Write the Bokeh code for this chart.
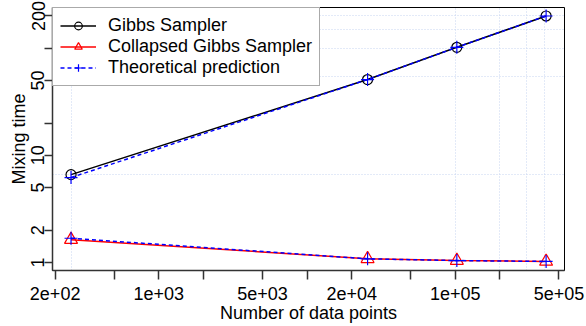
from bokeh.plotting import figure
from bokeh.models import FixedTicker, Legend, LegendItem, Range1d
from bokeh.embed import file_html
from bokeh.resources import INLINE

# ---- data ----
n_points = [256, 25600, 102400, 409600]
gibbs = [6.6, 51, 102, 200]
collapsed = [1.63, 1.08, 1.04, 1.02]
theory_gibbs = [6.2, 51, 102, 200]
theory_collapsed = [1.68, 1.08, 1.04, 1.02]

x_ticks = [200, 500, 1000, 2000, 5000, 10000, 20000, 50000, 100000, 200000, 500000]
x_tick_labels = ["2e+02", "", "1e+03", "", "5e+03", "", "2e+04", "", "1e+05", "", "5e+05"]
y_ticks = [1, 2, 5, 10, 20, 50, 100, 200]
y_tick_labels = ["1", "2", "5", "10", "", "50", "", "200"]
grid_x = [256, 100000, 200000, 300000, 400000]
grid_y = [6.6, 54, 100, 150, 200]

FONT = "Liberation Sans"
FS = "18px"

p = figure(width=586, height=326, x_axis_type="log", y_axis_type="log",
           x_range=Range1d(192, 545000), y_range=Range1d(0.84, 240),
           output_backend="svg", toolbar_location=None,
           min_border_top=7, min_border_right=22, min_border_bottom=56, min_border_left=52)

p.background_fill_color = "white"
p.border_fill_color = "white"
p.outline_line_color = "black"
p.outline_line_width = 1

# grid
p.xgrid.ticker = FixedTicker(ticks=grid_x)
p.ygrid.ticker = FixedTicker(ticks=grid_y)
for g in (p.xgrid[0], p.ygrid[0]):
    g.grid_line_color = "#c6d5f0"
    g.grid_line_dash = "1 2"
    g.grid_line_width = 1

# axes
p.xaxis.ticker = FixedTicker(ticks=x_ticks)
p.yaxis.ticker = FixedTicker(ticks=y_ticks)
p.xaxis.major_label_overrides = {float(t): l for t, l in zip(x_ticks, x_tick_labels)}
p.yaxis.major_label_overrides = {float(t): l for t, l in zip(y_ticks, y_tick_labels)}
p.xaxis.axis_label = "Number of data points"
p.yaxis.axis_label = "Mixing time"
p.yaxis.major_label_orientation = "vertical"
for ax in (p.xaxis[0], p.yaxis[0]):
    ax.major_label_text_font = FONT
    ax.major_label_text_font_size = FS
    ax.major_label_text_color = "black"
    ax.axis_label_text_font = FONT
    ax.axis_label_text_font_size = FS
    ax.axis_label_text_font_style = "normal"
    ax.axis_label_text_color = "black"
    ax.axis_label_standoff = 0
    ax.major_tick_out = 9
    ax.major_tick_in = 0
    ax.minor_tick_line_color = None
    ax.major_tick_line_color = "#333333"
    ax.major_tick_line_width = 1.5
    ax.axis_line_color = "#333333"
    ax.axis_line_width = 1.5
p.xaxis.major_label_standoff = 7
p.yaxis.major_label_standoff = 0
p.yaxis.major_tick_out = 8

# series
l_g = p.line(n_points, gibbs, line_color="black", line_width=1.5)
m_g = p.scatter(n_points, gibbs, marker="circle", size=10, fill_color=None,
                line_color="black", line_width=1.2)
l_c = p.line(n_points, collapsed, line_color="red", line_width=1.5)
m_c = p.scatter(n_points, collapsed, marker="triangle", size=13, fill_color=None,
                line_color="red", line_width=1.2)
l_t1 = p.line(n_points, theory_gibbs, line_color="blue", line_width=1.5, line_dash="4 3")
m_t1 = p.scatter(n_points, theory_gibbs, marker="cross", size=13,
                 line_color="blue", line_width=1.2)
l_t2 = p.line(n_points, theory_collapsed, line_color="blue", line_width=1.5, line_dash="4 3")
m_t2 = p.scatter(n_points, theory_collapsed, marker="cross", size=13,
                 line_color="blue", line_width=1.2)

legend = Legend(items=[
    LegendItem(label="Gibbs Sampler", renderers=[l_g, m_g]),
    LegendItem(label="Collapsed Gibbs Sampler", renderers=[l_c, m_c]),
    LegendItem(label="Theoretical prediction", renderers=[l_t1, m_t1]),
], location="top_left")
legend.margin = 0
legend.padding = 7
legend.spacing = 0
legend.glyph_width = 36
legend.glyph_height = 19
legend.label_height = 19
legend.label_standoff = 12
legend.label_text_font = FONT
legend.label_text_font_size = FS
legend.label_text_color = "black"
legend.border_line_color = "#555555"
legend.border_line_width = 1.5
legend.background_fill_color = "white"
legend.background_fill_alpha = 1
p.add_layout(legend)

open("out.html", "w").write(file_html(p, INLINE))
